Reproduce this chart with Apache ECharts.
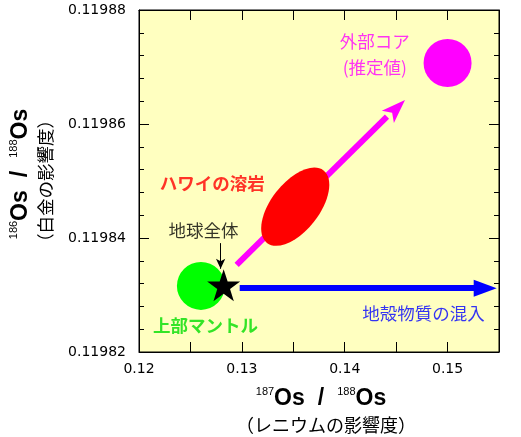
<!DOCTYPE html>
<html><head><meta charset="utf-8">
<script src="https://cdn.jsdelivr.net/npm/echarts@6/dist/echarts.min.js"></script>
<style>html,body{margin:0;padding:0;background:#fff}#c{width:521px;height:437px}</style>
</head><body><div id="c"></div>
<script>
// ---- tick labels ----
const xTickLabels = [0.12, 0.13, 0.14, 0.15];
const yTickLabels = [0.11982, 0.11984, 0.11986, 0.11988];
// ---- reservoirs [187Os/188Os, 186Os/188Os] ----
const upperMantle = [[0.12602, 0.1198316]];
const bulkEarth = [[0.12823, 0.1198317]];
const outerCore = [[0.15, 0.1198707]];
const hawaiiLava = [[0.13519, 0.1198455]];
// ---- trend arrows [from, notch, tip] ----
const coreTrend = [[0.129494, 0.1198353], [0.144110, 0.1198613], [0.145861, 0.1198642]];
const crustTrend = [[0.12979, 0.1198312], [0.15366, 0.1198312]];
const bulkPointer = [[0.127936, 0.1198391], [0.127936, 0.1198346]];
// ---- annotations ----
const noteTexts = ['外部コア\n(推定値)', 'ハワイの溶岩', '地球全体', '上部マントル', '地殻物質の混入'];
const noteX = [0.14293, 0.12711, 0.12628, 0.12647, 0.14765];
const noteY = [0.1198723, 0.1198496, 0.1198414, 0.1198247, 0.1198268];

const CJK = '"Noto Sans CJK JP", sans-serif';
const LAT = '"Liberation Sans", Arial, sans-serif';
const noteStyles = [
  {color: '#FF00FF', fontWeight: 'normal', lineHeight: 26},
  {color: '#FF0000', fontWeight: 'bold'},
  {color: '#000000', fontWeight: 'normal'},
  {color: '#00DD00', fontWeight: 'bold'},
  {color: '#0000FF', fontWeight: 'normal'}
];

const chart = echarts.init(document.getElementById('c'), null, {renderer: 'canvas'});

function fmt(list, digits) {
  return function (v) {
    const t = list.find(function (u) { return Math.abs(u - v) < 1e-9; });
    return t === undefined ? '' : t.toFixed(digits);
  };
}
const axisCommon = {
  type: 'value',
  axisLine: {show: true, onZero: false, lineStyle: {color: '#000', width: 1}},
  splitLine: {show: false}
};
const xBase = Object.assign({}, axisCommon, {
  min: 0.12, max: 0.155, interval: 0.005,
  axisTick: {show: true, inside: true, length: 10, lineStyle: {color: '#000'}},
  axisLabel: {show: true, formatter: fmt(xTickLabels, 2), color: '#000',
    fontFamily: '"DejaVu Sans", sans-serif', fontSize: 14, margin: 10}
});
const yBase = Object.assign({}, axisCommon, {
  min: 0.11982, max: 0.11988, interval: 0.00002,
  axisTick: {show: true, inside: true, length: 10, lineStyle: {color: '#000'}},
  minorTick: {show: true, splitNumber: 5, length: 5, lineStyle: {color: '#000'}},
  axisLabel: {show: true, formatter: fmt(yTickLabels, 5), color: '#000',
    fontFamily: '"DejaVu Sans", sans-serif', fontSize: 14, margin: 13}
});

const notesData = noteTexts.map(function (t, i) {
  return {
    value: [noteX[i], noteY[i]],
    label: Object.assign({show: true, position: 'inside', formatter: t,
      fontFamily: CJK, fontSize: 17.5, align: 'center', verticalAlign: 'middle'}, noteStyles[i])
  };
});

const starPath = 'path://M50,0 L61.8,35.1 L98.8,35.1 L68.9,56.9 L80.2,91.9 L50,70.2 L19.8,91.9 L31.1,56.9 L1.2,35.1 L38.2,35.1 Z';

const option = {
  animation: false,
  backgroundColor: '#FFFFFF',
  grid: {left: 139, right: 22, top: 10, bottom: 85, show: true,
    backgroundColor: '#FFFFC0', borderColor: '#000', borderWidth: 1},
  xAxis: [
    Object.assign({}, xBase, {position: 'bottom'}),
    Object.assign({}, xBase, {position: 'top', axisLabel: {show: false}})
  ],
  yAxis: [
    Object.assign({}, yBase, {position: 'left'}),
    Object.assign({}, yBase, {position: 'right', axisLabel: {show: false}})
  ],
  series: [
    {
      // shaft of the core-contribution arrow (stops at the head's notch)
      type: 'lines', coordinateSystem: 'cartesian2d', z: 2,
      data: [{coords: [coreTrend[0], coreTrend[1]]}],
      symbol: ['none', 'none'],
      lineStyle: {color: '#FF00FF', width: 6, opacity: 1, curveness: 0}
    },
    {
      // head of the core-contribution arrow
      type: 'lines', coordinateSystem: 'cartesian2d', z: 2,
      data: [{coords: [coreTrend[0], coreTrend[2]]}],
      symbol: ['none', 'arrow'], symbolSize: [[1, 1], [13, 24]],
      lineStyle: {color: '#FF00FF', width: 0, opacity: 1, curveness: 0}
    },
    {
      type: 'custom', z: 3, data: hawaiiLava,
      renderItem: function (params, api) {
        const c = api.coord([api.value(0), api.value(1)]);
        return {type: 'ellipse', x: c[0], y: c[1], rotation: 52 * Math.PI / 180,
          shape: {cx: 0, cy: 0, rx: 46, ry: 24}, style: {fill: '#FF0000'}};
      }
    },
    {
      type: 'scatter', z: 3, data: upperMantle, symbol: 'circle', symbolSize: 48,
      itemStyle: {color: '#00FF00', opacity: 1}
    },
    {
      type: 'scatter', z: 3, data: outerCore, symbol: 'circle', symbolSize: 48,
      itemStyle: {color: '#FF00FF', opacity: 1}
    },
    {
      type: 'lines', coordinateSystem: 'cartesian2d', z: 4,
      data: [{coords: crustTrend}],
      symbol: ['none', 'triangle'], symbolSize: [[1, 1], [17, 23]],
      lineStyle: {color: '#0000FF', width: 6, opacity: 1, curveness: 0}
    },
    {
      type: 'lines', coordinateSystem: 'cartesian2d', z: 4,
      data: [{coords: bulkPointer}],
      symbol: ['none', 'arrow'], symbolSize: [[1, 1], [7, 10]],
      lineStyle: {color: '#000000', width: 1, opacity: 1, curveness: 0}
    },
    {
      type: 'scatter', z: 5, data: bulkEarth, symbol: starPath, symbolSize: [33, 32],
      itemStyle: {color: '#000000', opacity: 1}
    },
    {
      type: 'scatter', z: 6, data: notesData, symbolSize: 1,
      itemStyle: {color: 'rgba(0,0,0,0)'}
    }
  ],
  graphic: [
    {
      type: 'text', x: 321, y: 399, z: 10,
      style: {
        text: '{s|187}{b|Os}{g| }{b|/}{g| }{s|188}{b|Os}',
        align: 'center', verticalAlign: 'middle',
        rich: {
          s: {fontFamily: LAT, fontSize: 11, verticalAlign: 'top', lineHeight: 14, fill: '#000'},
          b: {fontFamily: LAT, fontSize: 23, fontWeight: 'bold', lineHeight: 26, fill: '#000'},
          g: {fontFamily: LAT, fontSize: 23, width: 13, lineHeight: 26}
        }
      }
    },
    {
      type: 'text', x: 326, y: 425, z: 10,
      style: {text: '（レニウムの影響度）', fontFamily: CJK, fontSize: 18, fill: '#000',
        align: 'center', verticalAlign: 'middle'}
    },
    {
      type: 'text', x: 21, y: 174, z: 10, rotation: Math.PI / 2,
      style: {
        text: '{s|186}{b|Os}{g| }{b|/}{g| }{s|188}{b|Os}',
        align: 'center', verticalAlign: 'middle',
        rich: {
          s: {fontFamily: LAT, fontSize: 11, verticalAlign: 'top', lineHeight: 14, fill: '#000'},
          b: {fontFamily: LAT, fontSize: 23, fontWeight: 'bold', lineHeight: 26, fill: '#000'},
          g: {fontFamily: LAT, fontSize: 23, width: 13, lineHeight: 26}
        }
      }
    },
    {
      type: 'text', x: 45, y: 181, z: 10, rotation: Math.PI / 2,
      style: {text: '（白金の影響度）', fontFamily: CJK, fontSize: 17.5, fill: '#000',
        align: 'center', verticalAlign: 'middle'}
    }
  ]
};
chart.setOption(option);
</script>
</body></html>
